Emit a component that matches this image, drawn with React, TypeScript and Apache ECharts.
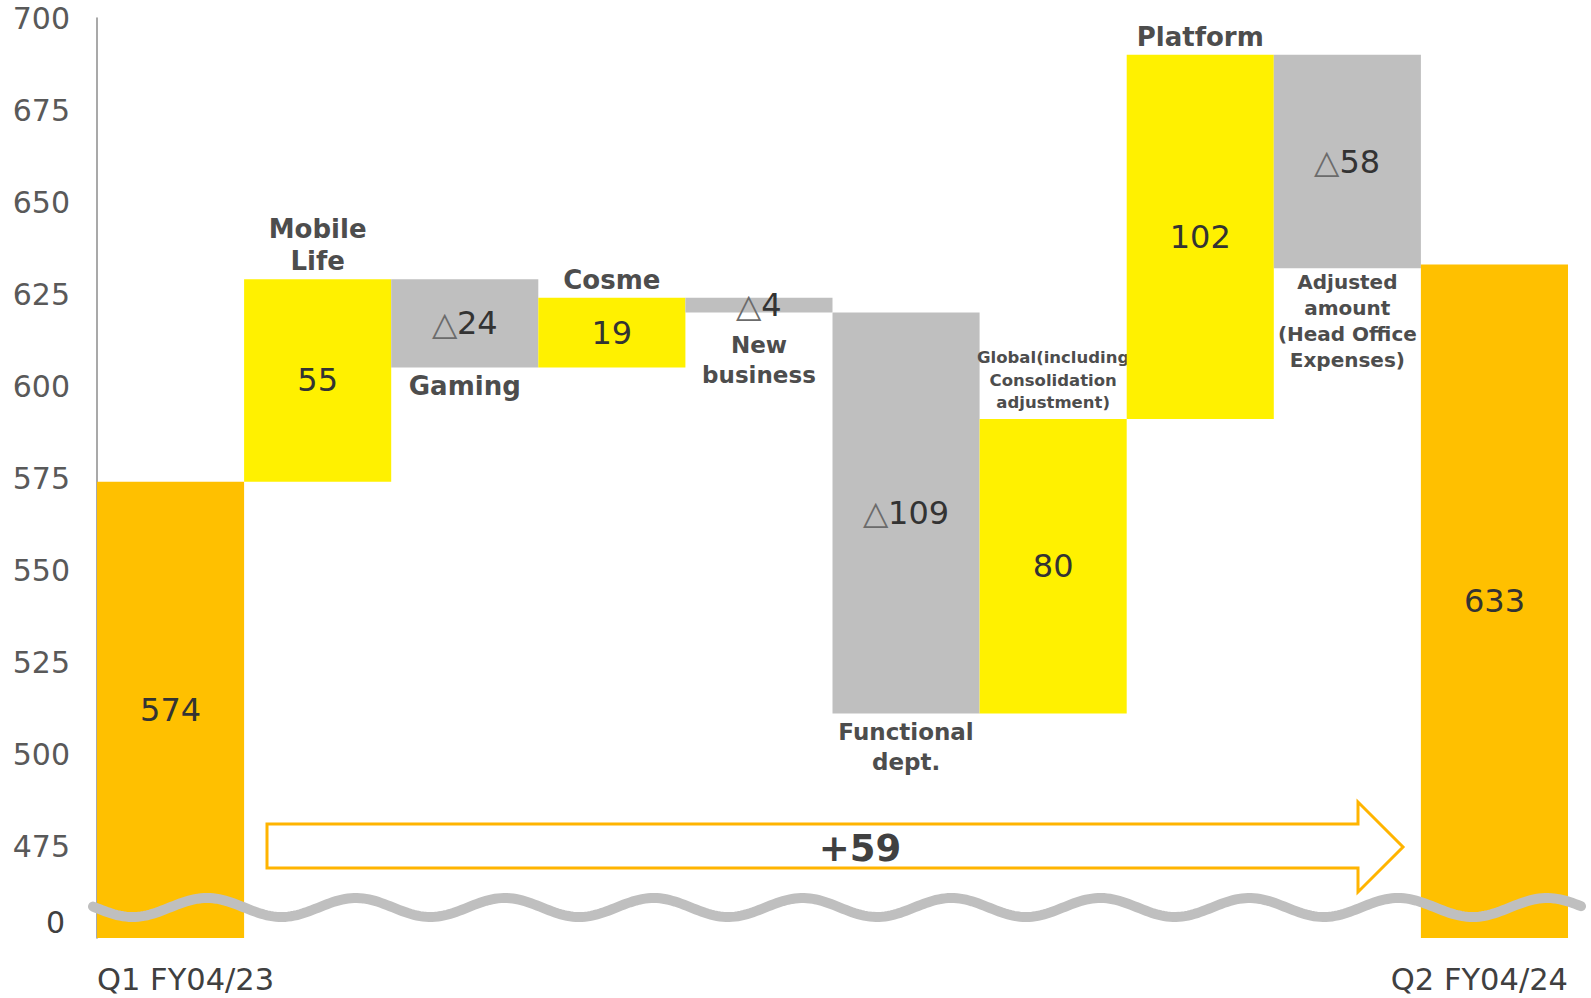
import React, { useEffect, useRef } from "react";
import * as echarts from "echarts";

// ---- data ----
const categories = [
  "Q1 FY04/23",
  "Mobile Life",
  "Gaming",
  "Cosme",
  "New business",
  "Functional dept.",
  "Global",
  "Platform",
  "Adjusted amount",
  "Q2 FY04/24",
];
// bottom and top level of each waterfall bar (450 = broken-axis floor, i.e. "0")
const barLow = [450, 574, 605, 605, 620, 511, 511, 591, 632, 450];
const barHigh = [574, 629, 629, 624, 624, 620, 591, 690, 690, 633];
const barKinds = ["total", "up", "down", "up", "down", "down", "up", "up", "down", "total"];
const valueLabels = ["574", "55", "△24", "19", "△4", "△109", "80", "102", "△58", "633"];
const nameLabels = [
  "",
  "Mobile\nLife",
  "Gaming",
  "Cosme",
  "New\nbusiness",
  "Functional\ndept.",
  "Global(including\nConsolidation\nadjustment)",
  "Platform",
  "Adjusted\namount\n(Head Office\nExpenses)",
  "",
];
const yMin = 450;
const yMax = 700;
const yInterval = 25;
const floorLabel = "0";
const totalChange = "+59";

const ORANGE = "#FFC000";
const YELLOW = "#FFF100";
const GRAY = "#BFBFBF";
const NAME_COLOR = "#4D4D4D";
const VALUE_COLOR = "#333333";
const SANS = "DejaVu Sans, Verdana, sans-serif";

export default function App() {
  const ref = useRef<HTMLDivElement>(null);

  useEffect(() => {
    if (!ref.current) return;
    const chart = echarts.init(ref.current, undefined, { renderer: "svg" });

    const nameStyle = (idx: number) => {
      if (idx === 6) return { fontSize: 16.5, lineHeight: 22.5, gap: 5 };
      if (idx === 8) return { fontSize: 20, lineHeight: 26, gap: 1 };
      if (idx === 4 || idx === 5) return { fontSize: 23, lineHeight: 30, gap: 3 };
      return { fontSize: 26, lineHeight: 32, gap: 2 };
    };

    const renderItem = (params: any, api: any) => {
      const idx = api.value(0);
      const low = api.value(1);
      const high = api.value(2);
      const top = api.coord([idx, high]);
      const bot = api.coord([idx, low]);
      const w = api.size([1, 0])[0];
      const x = top[0] - w / 2;
      const kind = barKinds[idx];
      const color = kind === "total" ? ORANGE : kind === "up" ? YELLOW : GRAY;
      const cy = (top[1] + bot[1]) / 2;
      const label = valueLabels[idx];
      const isDelta = label.startsWith("△");
      const children: any[] = [
        {
          type: "rect",
          shape: { x, y: top[1], width: w, height: bot[1] - top[1] },
          style: { fill: color },
        },
        {
          type: "text",
          x: top[0],
          y: cy,
          style: {
            text: isDelta ? `{t|△}{n|${label.slice(1)}}` : `{n|${label}}`,
            align: "center",
            verticalAlign: "middle",
            rich: {
              t: { fontFamily: SANS, fontSize: 33, fill: "#6b6b6b", fontWeight: 200 },
              n: { fontFamily: SANS, fontSize: 32, fill: VALUE_COLOR },
            },
          },
        },
      ];
      const name = nameLabels[idx];
      if (name) {
        const ns = nameStyle(idx);
        const above = kind === "up";
        const yPos = above ? top[1] - ns.gap : Math.max(bot[1] + ns.gap, cy + 25);
        children.push({
          type: "text",
          x: top[0],
          y: yPos,
          style: {
            text: name,
            align: "center",
            verticalAlign: above ? "bottom" : "top",
            fontFamily: SANS,
            fontWeight: "bold",
            fontSize: ns.fontSize,
            lineHeight: ns.lineHeight,
            fill: NAME_COLOR,
          },
        });
      }
      return { type: "group", children };
    };

    // decorative broken-axis wave
    const wavePts: number[][] = [];
    for (let px = 93; px <= 1583; px += 3) {
      wavePts.push([px, 907.5 - 9.5 * Math.cos((2 * Math.PI * (px - 207)) / 148.9)]);
    }

    chart.setOption({
      animation: false,
      backgroundColor: "#ffffff",
      grid: { left: 97, right: 23, top: 18, bottom: 60, containLabel: false },
      xAxis: {
        type: "category",
        data: categories,
        axisLine: { show: false },
        axisTick: { show: false },
        axisLabel: { show: false },
        splitLine: { show: false },
      },
      yAxis: {
        type: "value",
        min: yMin,
        max: yMax,
        interval: yInterval,
        axisLine: { show: true, lineStyle: { color: "#8c8c8c", width: 1.5 } },
        axisTick: { show: false },
        splitLine: { show: false },
        axisLabel: {
          margin: 27,
          fontFamily: SANS,
          fontSize: 30,
          color: "#595959",
          formatter: (v: number) => (v === yMin ? `{z|${floorLabel}}` : String(v)),
          rich: {
            z: {
              fontFamily: SANS,
              fontSize: 30,
              color: "#404040",
              padding: [0, 5, 32, 0],
            },
          },
        },
      },
      series: [
        {
          type: "custom",
          renderItem,
          encode: { x: 0, y: [1, 2] },
          data: categories.map((_, i) => [i, barLow[i], barHigh[i]]),
          clip: false,
        },
      ],
      graphic: [
        {
          type: "polygon",
          z: 100,
          shape: {
            points: [
              [267, 824],
              [1358, 824],
              [1358, 802],
              [1403, 847],
              [1358, 892],
              [1358, 868],
              [267, 868],
            ],
          },
          style: { fill: "#ffffff", stroke: "#FFB400", lineWidth: 3 },
        },
        {
          type: "text",
          z: 101,
          x: 860,
          y: 848,
          style: {
            text: totalChange,
            align: "center",
            verticalAlign: "middle",
            fontFamily: SANS,
            fontWeight: "bold",
            fontSize: 37,
            fill: "#404040",
          },
        },
        {
          type: "polyline",
          z: 102,
          shape: { points: wavePts },
          style: { stroke: "#BFBFBF", lineWidth: 10, fill: "none", lineCap: "round" },
        },
        {
          type: "text",
          z: 103,
          x: 97,
          y: 979,
          style: {
            text: categories[0],
            align: "left",
            verticalAlign: "middle",
            fontFamily: SANS,
            fontSize: 30.5,
            fill: "#404040",
          },
        },
        {
          type: "text",
          z: 103,
          x: 1568,
          y: 979,
          style: {
            text: categories[9],
            align: "right",
            verticalAlign: "middle",
            fontFamily: SANS,
            fontSize: 30.5,
            fill: "#404040",
          },
        },
      ],
    });

    return () => chart.dispose();
  }, []);

  return (
    <div
      ref={ref}
      style={{ position: "fixed", left: 0, top: 0, width: 1591, height: 998, background: "#fff" }}
    />
  );
}
